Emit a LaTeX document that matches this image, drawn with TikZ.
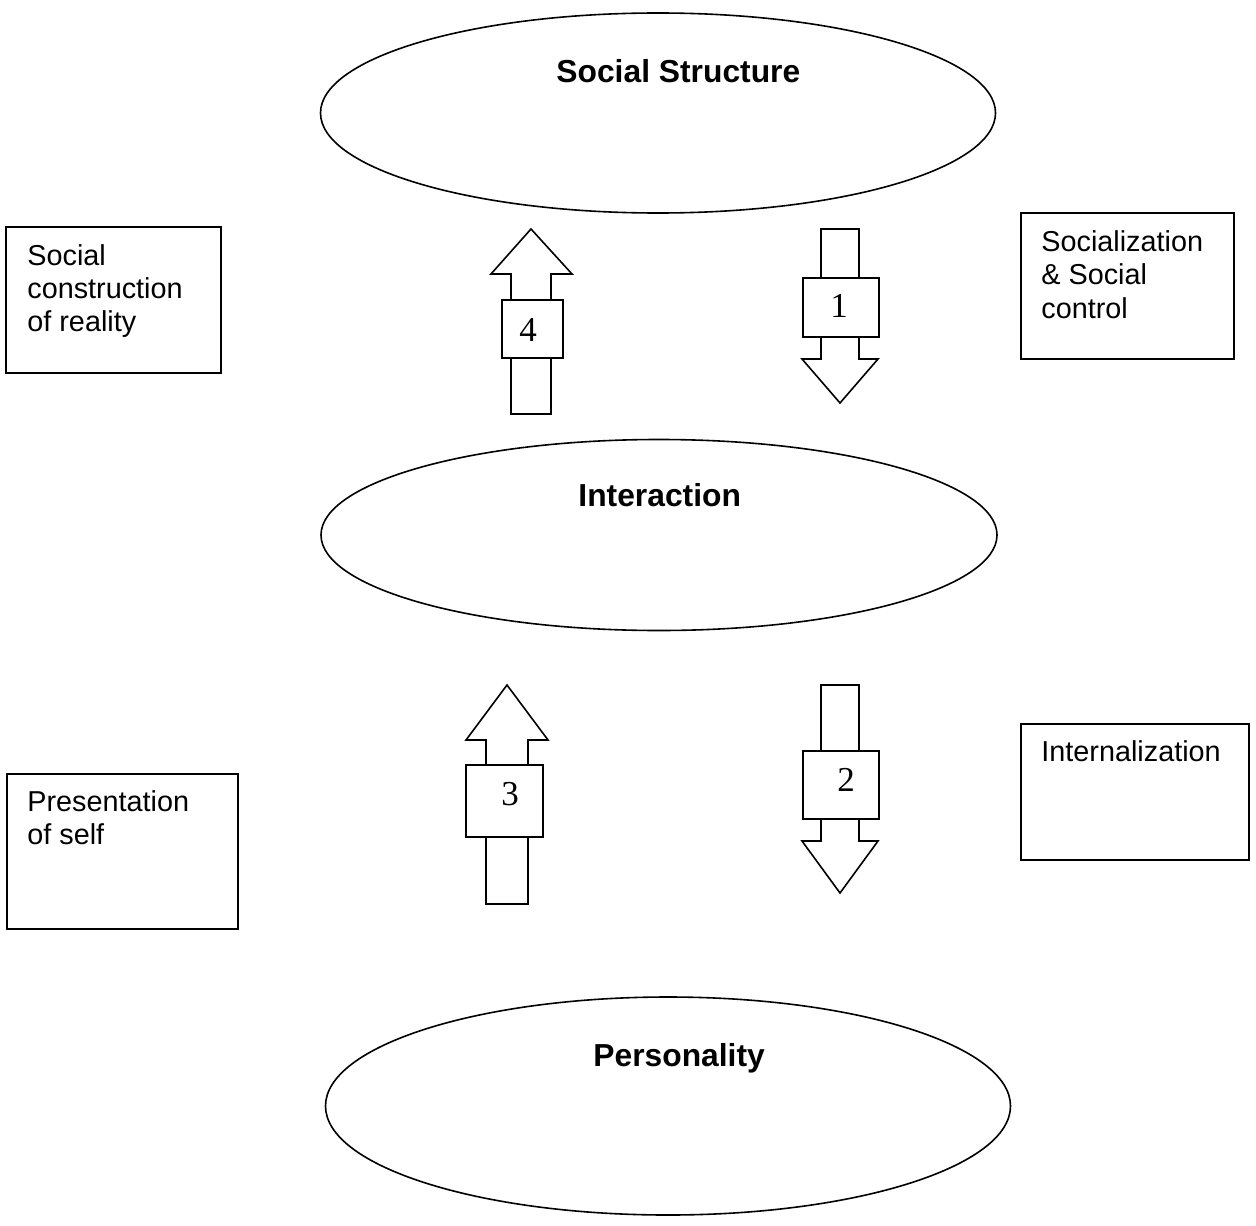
\documentclass[tikz,border=0pt]{standalone}
\usepackage{fontspec}
\setmainfont{Liberation Sans}
\newfontfamily\numfont{Liberation Serif}
\usetikzlibrary{shapes.geometric}
\tikzset{
  ln/.style={line width=0.8pt, line join=miter},
  oval/.style={ln, draw, ellipse, inner sep=0pt},
  title/.style={anchor=base west, inner sep=0pt, font=\fontsize{15.9}{18}\selectfont\bfseries},
  side/.style={ln, draw, rectangle, anchor=north west, inner sep=0pt},
  sidetext/.style={anchor=base west, inner sep=0pt, font=\fontsize{14.4}{16.6}\selectfont},
  numbox/.style={ln, draw, fill=white, rectangle, anchor=north west, inner sep=0pt},
  numtext/.style={anchor=base, inner sep=0pt, font=\fontsize{17.5}{20}\numfont},
  arrowpart/.style={ln, fill=white}
}
\begin{document}
\begin{tikzpicture}[x=0.5pt, y=-0.5pt]
\useasboundingbox (0,0) rectangle (1256,1225);

% ellipses
\node[oval, minimum width=337.5pt, minimum height=100pt] (struct) at (658,113) {};
\node[title] (structT) at (556,83) {Social Structure};
\node[oval, minimum width=338pt, minimum height=95.5pt] (inter) at (659,535) {};
\node[title] (interT) at (578,506) {Interaction};
\node[oval, minimum width=342.5pt, minimum height=109pt] (pers) at (668,1106) {};
\node[title] (persT) at (593,1066) {Personality};

% side boxes
\node[side, minimum width=107.5pt, minimum height=73pt] (b1) at (5,226) {};
\node[sidetext] (b1a) at (27,265) {Social};
\node[sidetext] (b1b) at (27,298) {construction};
\node[sidetext] (b1c) at (27,331) {of reality};

\node[side, minimum width=106.5pt, minimum height=73pt] (b2) at (1020,212) {};
\node[sidetext] (b2a) at (1041,251) {Socialization};
\node[sidetext] (b2b) at (1041,284) {\& Social};
\node[sidetext] (b2c) at (1041,318) {control};

\node[side, minimum width=115.5pt, minimum height=77.5pt] (b3) at (6,773) {};
\node[sidetext] (b3a) at (27,811) {Presentation};
\node[sidetext] (b3b) at (27,844) {of self};

\node[side, minimum width=114pt, minimum height=68pt] (b4) at (1020,723) {};
\node[sidetext] (b4a) at (1041,761) {Internalization};

% arrow 4 (up)
\draw[arrowpart] (511,299) -- (511,274) -- (491,274) -- (531,229) -- (572,274) -- (551,274) -- (551,299);
\draw[arrowpart] (511,357) -- (511,414) -- (551,414) -- (551,357);
\node[numbox, minimum width=30.5pt, minimum height=29pt] (a4) at (501,299) {};
\node[numtext] (a4t) at (528,341) {4};

% arrow 1 (down)
\draw[arrowpart] (821,277) -- (821,229) -- (859,229) -- (859,277);
\draw[arrowpart] (821,336) -- (821,359) -- (802,359) -- (840,403) -- (878,359) -- (859,359) -- (859,336);
\node[numbox, minimum width=38pt, minimum height=29.5pt] (a1) at (802,277) {};
\node[numtext] (a1t) at (839,317) {1};

% arrow 3 (up)
\draw[arrowpart] (486,764) -- (486,740) -- (466,740) -- (507,685) -- (548,740) -- (528,740) -- (528,764);
\draw[arrowpart] (486,836) -- (486,904) -- (528,904) -- (528,836);
\node[numbox, minimum width=38.5pt, minimum height=36pt] (a3) at (465,764) {};
\node[numtext] (a3t) at (510,805) {3};

% arrow 2 (down)
\draw[arrowpart] (821,750) -- (821,685) -- (859,685) -- (859,750);
\draw[arrowpart] (821,818) -- (821,841) -- (802,841) -- (840,893) -- (878,841) -- (859,841) -- (859,818);
\node[numbox, minimum width=38pt, minimum height=34pt] (a2) at (802,750) {};
\node[numtext] (a2t) at (846,791) {2};
\end{tikzpicture}
\end{document}
